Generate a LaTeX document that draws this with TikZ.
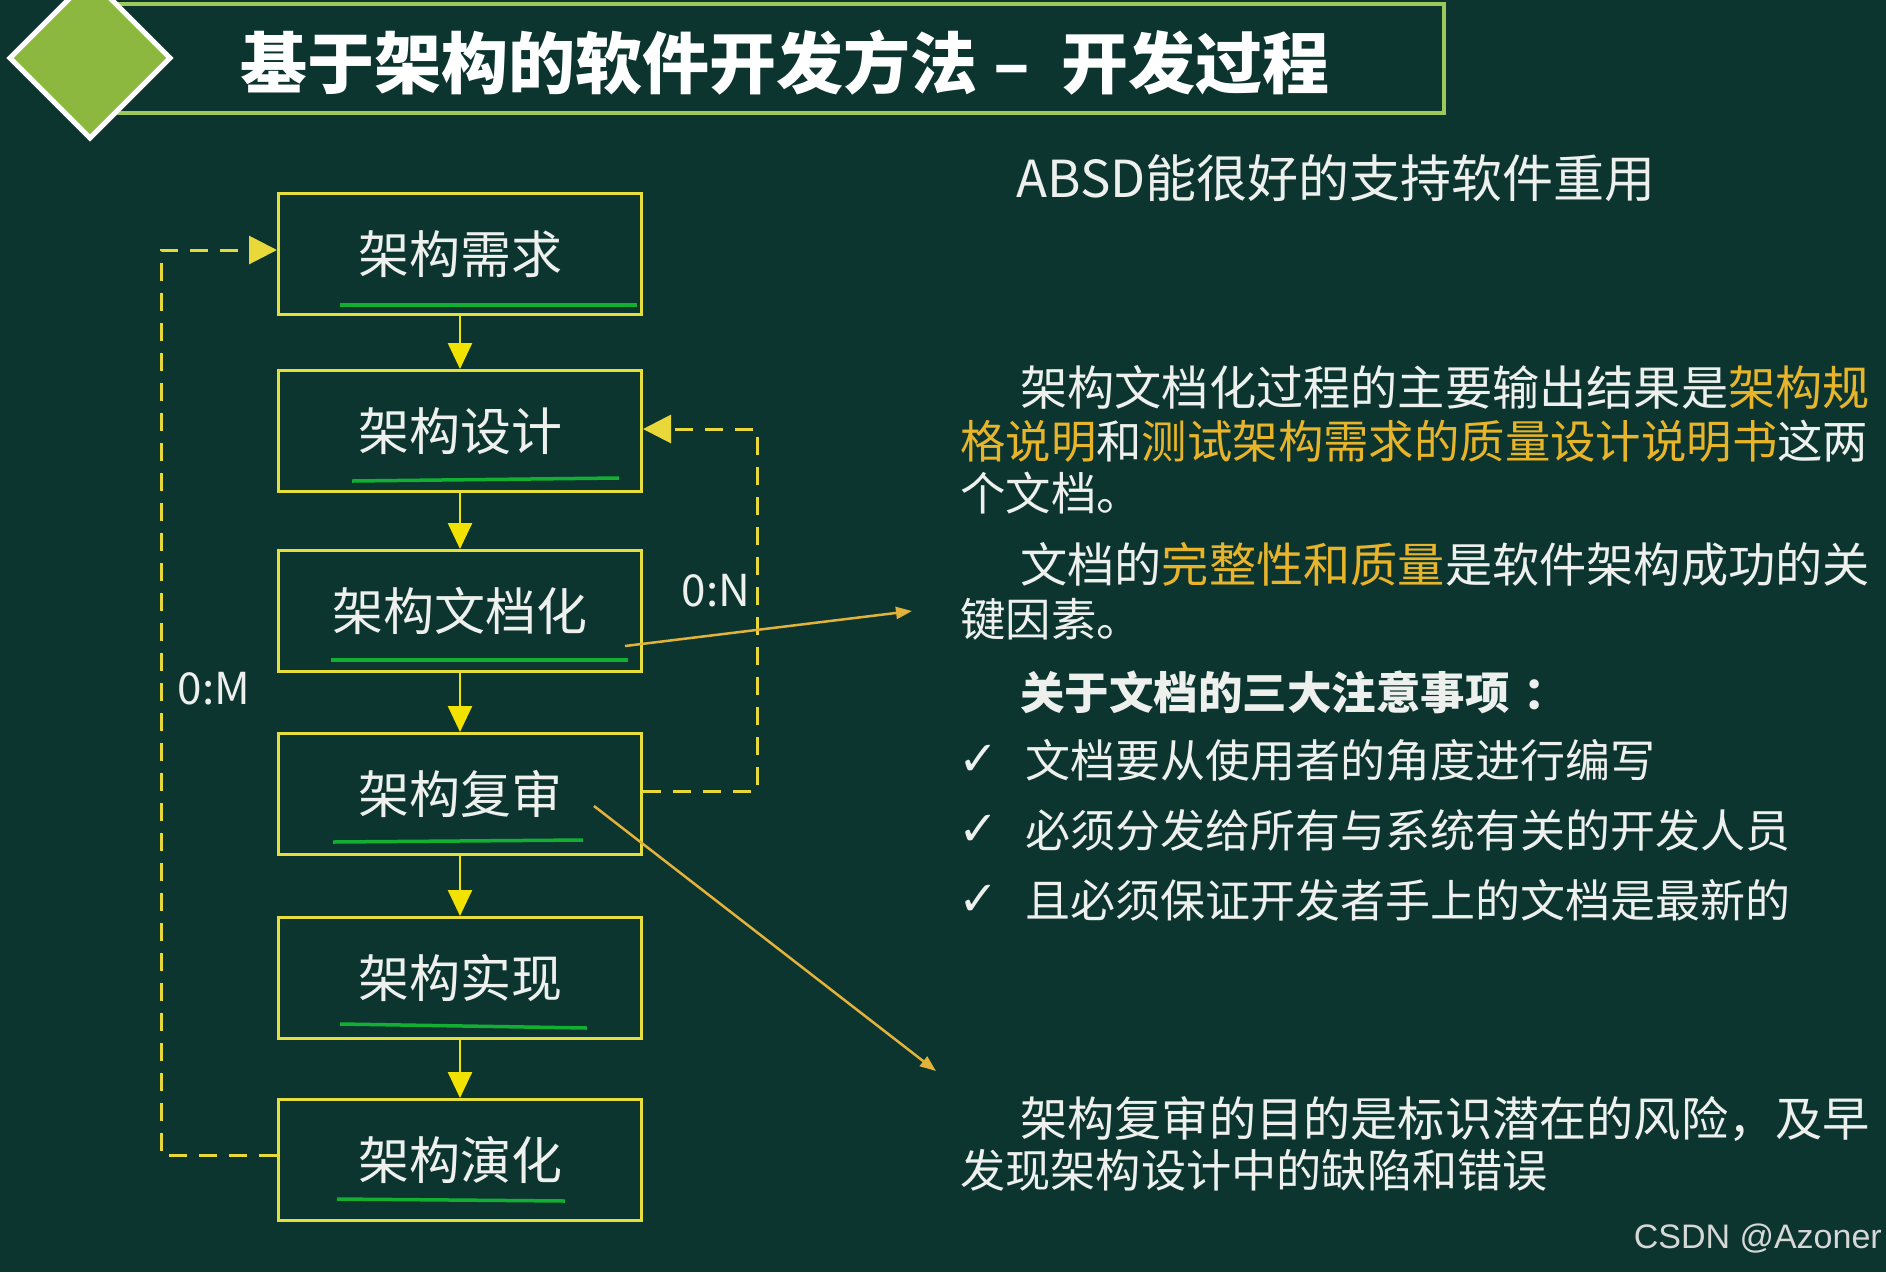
\documentclass[tikz,border=0pt]{standalone}
\usepackage{fontspec}
\setmainfont{Noto Sans CJK SC}
\newfontfamily\dejavu{DejaVu Sans}
\newfontfamily\wmfont{Liberation Sans}
\usetikzlibrary{arrows.meta}
\definecolor{bg}{HTML}{0C3530}
\definecolor{titlegreen}{HTML}{9CC85C}
\definecolor{dgreen}{HTML}{8CB840}
\definecolor{boxyellow}{HTML}{E6DE3C}
\definecolor{arrowyellow}{HTML}{F2E200}
\definecolor{dashyellow}{HTML}{E8D83A}
\definecolor{ulgreen}{HTML}{12B032}
\definecolor{ptrorange}{HTML}{E2B23A}
\definecolor{gold}{HTML}{E8B42A}
\definecolor{txt}{HTML}{EEF0EE}
\definecolor{wmgray}{HTML}{D6D8D6}
\newcommand\setfs[1]{\fontsize{#1}{#1}\selectfont}
\tikzset{
  box/.style={draw=boxyellow, line width=3pt, minimum width=363pt, minimum height=121pt, inner sep=0pt, text=txt, font=\setfs{51}},
  flow/.style={draw=arrowyellow, line width=2.5pt, -{Triangle[length=26pt,width=24pt]}},
  loopline/.style={draw=dashyellow, line width=3pt, dash pattern=on 18pt off 12pt, -{Triangle[length=28pt,width=28pt]}},
  uline/.style={draw=ulgreen, line width=3.5pt},
  ptr/.style={draw=ptrorange, line width=2.5pt, -{Triangle[length=16pt,width=12pt]}},
  body/.style={anchor=west, inner sep=0pt, text=txt, font=\setfs{46}},
  lbl/.style={inner sep=0pt, text=txt, font=\setfs{44}},
  chk/.style={inner sep=0pt, text=txt, font=\dejavu\setfs{48}}
}
\begin{document}
\begin{tikzpicture}[x=1pt,y=-1pt]
\fill[bg] (0,0) rectangle (1886,1272);
\useasboundingbox (0,0) rectangle (1886,1272);
% title band
\draw[draw=titlegreen, line width=3.5pt, fill=bg] (112,4) rectangle (1444,113);
\filldraw[fill=dgreen, draw=white, line width=5pt, line join=miter] (90,-22) -- (170,58) -- (90,138) -- (10,58) -- cycle;
\node[anchor=west, inner sep=0pt, text=white, font=\setfs{67}\bfseries] (title) at (240,63) {基于架构的软件开发方法\hspace{16pt}–\hspace{32pt}开发过程};
% boxes
\node[box] (b1) at (460,254) {架构需求};
\node[box] (b2) at (460,431) {架构设计};
\node[box] (b3) at (460,611) {架构文档化};
\node[box] (b4) at (460,794) {架构复审};
\node[box] (b5) at (460,978) {架构实现};
\node[box] (b6) at (460,1160) {架构演化};
% underlines
\draw[uline] (340,305) -- (637,305);
\draw[uline] (352,481) -- (619,478);
\draw[uline] (331,660) -- (628,660);
\draw[uline] (333,842) -- (583,840);
\draw[uline] (340,1024) -- (587,1028);
\draw[uline] (337,1199) -- (565,1201);
% flow arrows
\draw[flow] (b1.south) -- (b2.north);
\draw[flow] (b2.south) -- (b3.north);
\draw[flow] (b3.south) -- (b4.north);
\draw[flow] (b4.south) -- (b5.north);
\draw[flow] (b5.south) -- (b6.north);
% loops
\coordinate (L) at (161,0);
\coordinate (R) at (757,0);
\draw[loopline] ([yshift=5pt]b6.west) -- ([yshift=5pt]b6.west -| L) |- ([yshift=4pt]b1.west);
\draw[loopline] ([yshift=3pt]b4.east) -- ([yshift=3pt]b4.east -| R) |- ([yshift=2pt]b2.east);
\node[lbl] (m) at (214,689) {0:M};
\node[lbl] (n) at (716,591) {0:N};
% pointer arrows
\coordinate (p1s) at (625,646);
\coordinate (p1e) at (912,611);
\coordinate (p2s) at (594,806);
\coordinate (p2e) at (936,1071);
\draw[ptr] (p1s) -- (p1e);
\draw[ptr] (p2s) -- (p2e);
% right text
\node[body, font=\setfs{51}] (t0) at (1016,178) {ABSD能很好的支持软件重用};
\node[body, font=\setfs{47.2}] (t1) at (1020,387) {架构文档化过程的主要输出结果是\textcolor{gold}{架构规}};
\node[body, font=\setfs{45.4}] (t2) at (960,441) {\textcolor{gold}{格说明}和\textcolor{gold}{测试架构需求的质量设计说明书}这两};
\node[body, font=\setfs{45.4}] (t3) at (960,493) {个文档。};
\node[body, font=\setfs{47.2}] (t4) at (1020,565) {文档的\textcolor{gold}{完整性和质量}是软件架构成功的关};
\node[body, font=\setfs{45.4}] (t5) at (960,619) {键因素。};
\node[body, font=\setfs{44.5}\bfseries] (t6) at (1020,692) {关于文档的三大注意事项\hspace{14pt}：};
\node[chk] (c1) at (979,760) {✓};
\node[chk] (c2) at (979,830) {✓};
\node[chk] (c3) at (979,900) {✓};
\node[body, font=\setfs{45}] (t7) at (1025,760) {文档要从使用者的角度进行编写};
\node[body, font=\setfs{45}] (t8) at (1025,830) {必须分发给所有与系统有关的开发人员};
\node[body, font=\setfs{45}] (t9) at (1025,900) {且必须保证开发者手上的文档是最新的};
\node[body, font=\setfs{47.2}] (t10) at (1020,1119) {架构复审的目的是标识潜在的风险，及早};
\node[body, font=\setfs{45.2}] (t11) at (960,1170) {发现架构设计中的缺陷和错误};
\node[anchor=east, inner sep=0pt, text=wmgray, font=\wmfont\setfs{34}] (wm) at (1882,1239) {CSDN @Azoner};
\end{tikzpicture}
\end{document}
